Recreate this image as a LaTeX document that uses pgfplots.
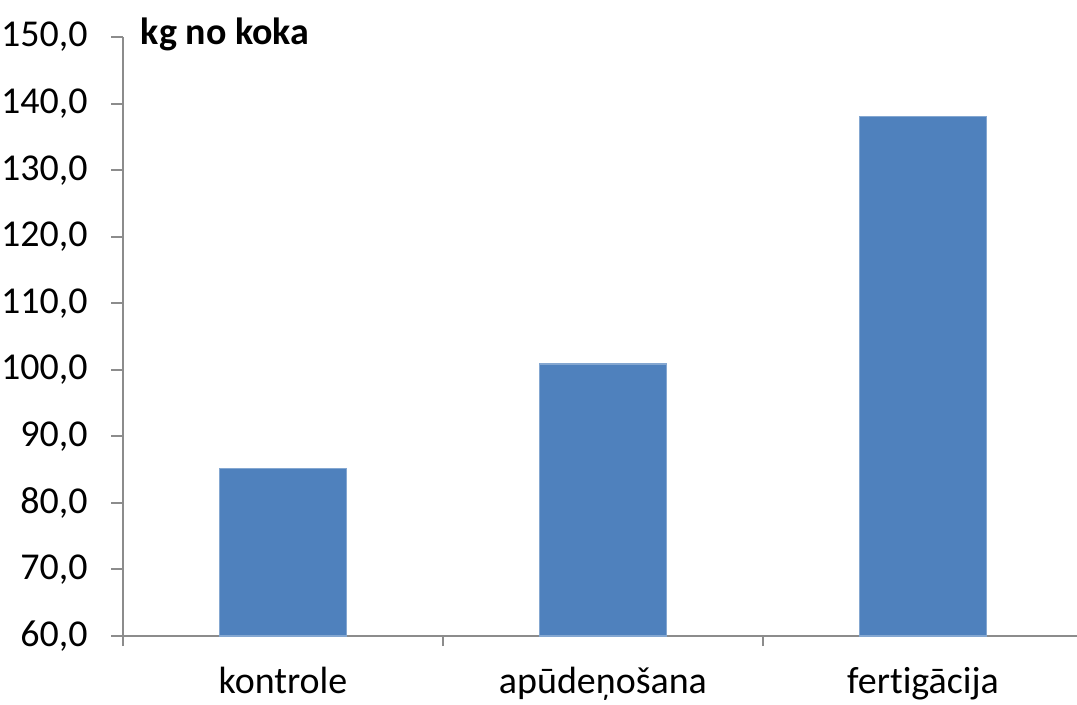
\documentclass[border=0pt]{standalone}
\usepackage{pgfplots}
\pgfplotsset{compat=1.18}
\usepackage{fontspec}
\setmainfont{Carlito}[Ligatures={NoCommon}]
\definecolor{barblue}{HTML}{4F81BD}
\definecolor{axgray}{HTML}{8C8C8C}
\begin{document}
\fontsize{10.8}{13}\selectfont
\begin{tikzpicture}
  \begin{axis}[
      at={(12.3mm,6.8mm)}, anchor=south west,
      scale only axis,
      width=96mm, height=59.9mm,
      xmin=-0.5, xmax=2.5,
      ymin=60, ymax=150,
      ytick={60,70,...,150},
      xtick={0,1,2},
      xticklabels={kontrole, apūdeņošana, fertigācija},
      minor xtick={-0.5,0.5,1.5,2.5},
      axis x line*=bottom,
      axis y line*=left,
      axis line style={axgray, line width=0.2mm, -},
      tick style={axgray, line width=0.2mm},
      tick align=outside,
      major tick length=1.2mm,
      minor tick length=1mm,
      x tick style={draw=none},
      minor x tick style={draw=axgray},
      xticklabel style={yshift=-0.6mm},
      yticklabel style={xshift=-1.0mm},
      /pgf/number format/assume math mode=true,
      yticklabel={\pgfmathprintnumber[fixed, fixed zerofill, precision=1, use comma]{\tick}},
      ybar, bar width=12.7mm,
      clip=false,
    ]
    \addplot[fill=barblue, draw=barblue!70!white] coordinates {(0,85.2) (1,100.9) (2,138.1)};
    \node[anchor=base west, inner sep=0pt, font=\bfseries] at (rel axis cs:0.018,0.987) {kg no koka};
  \end{axis}
  \pgfresetboundingbox
  \path[use as bounding box] (0,0) rectangle (107.7mm,70.4mm);
\end{tikzpicture}
\end{document}
